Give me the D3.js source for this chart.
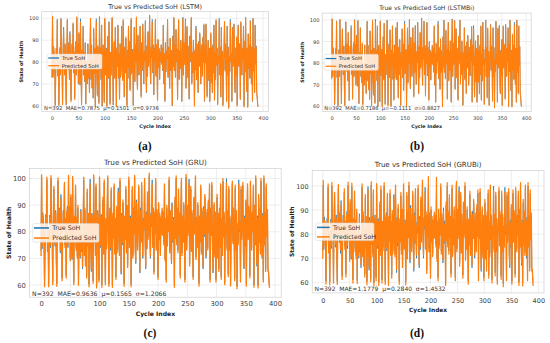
<!DOCTYPE html>
<html><head><meta charset="utf-8">
<script src="https://cdn.jsdelivr.net/npm/d3@7/dist/d3.min.js"></script>
<style>html,body{margin:0;padding:0;background:#fff;}svg{display:block;}</style>
</head><body><svg id="c" width="550" height="343"></svg>
<script>
const trueSoH = [
72.8,100.4,73.6,87.2,84.0,79.0,60.5,74.0,86.5,81.0,
99.6,73.5,80.0,60.2,76.0,86.3,74.0,100.0,82.5,78.0,
61.0,85.0,96.0,79.5,74.5,88.0,70.2,60.4,84.0,99.2,
82.0,76.5,89.0,72.0,94.0,81.0,62.5,78.0,88.0,80.5,
97.5,75.0,84.0,63.5,86.0,89.5,74.0,100.2,79.0,88.5,
70.0,93.0,82.5,69.5,99.8,77.0,61.0,85.0,78.0,96.5,
74.0,84.5,71.0,89.0,60.8,80.0,76.5,70.0,88.5,72.5,
79.0,66.0,84.0,99.5,72.0,88.0,68.0,81.0,63.5,95.0,
75.5,86.0,60.2,80.0,99.8,74.0,65.0,87.0,80.0,61.5,
100.4,77.0,86.0,72.0,97.0,59.8,82.0,88.0,74.5,62.0,
99.6,80.0,74.0,86.5,60.0,83.0,92.0,72.5,98.5,78.0,
61.0,84.0,74.5,88.0,100.0,79.0,60.4,85.0,89.0,73.0,
95.5,80.0,60.0,86.0,78.5,97.0,72.5,84.0,63.0,88.5,
73.0,81.0,96.5,76.0,72.0,99.0,82.0,64.0,87.0,75.0,
91.0,79.0,60.4,85.0,78.0,96.0,73.0,89.0,67.5,83.0,
99.5,75.0,82.0,86.0,60.2,79.0,96.0,71.0,88.0,80.0,
100.2,74.0,68.0,92.0,81.0,74.0,86.0,96.5,77.0,64.5,
89.0,76.0,97.5,80.0,70.0,85.0,80.5,99.0,76.0,66.0,
87.5,73.5,94.0,78.0,84.0,101.0,79.0,70.0,87.0,82.0,
99.5,75.0,88.0,65.0,86.5,80.0,99.0,74.0,87.5,78.0,
63.0,90.0,78.0,86.0,72.0,84.5,80.0,88.0,79.5,86.5,
76.0,97.0,70.0,84.0,62.0,89.0,75.5,85.0,81.0,99.5,
73.0,87.0,78.0,68.0,91.0,76.0,85.5,80.0,60.0,92.0,
78.5,100.0,76.0,88.0,73.0,95.0,80.0,86.0,63.5,87.0,
99.0,72.0,85.0,77.0,90.0,79.0,62.0,86.0,100.5,74.0,
89.0,79.5,84.0,99.8,68.0,84.0,96.0,73.5,87.0,77.0,
63.0,92.0,80.0,86.0,100.0,70.5,84.5,75.0,90.0,81.0,
60.5,85.0,77.0,96.5,72.5,88.0,82.0,66.0,89.5,78.0,
93.0,86.5,70.0,84.0,87.5,74.0,91.0,80.5,97.0,62.0,
88.0,79.5,97.5,76.0,64.5,82.0,90.0,71.5,86.5,62.0,
77.0,93.0,71.0,86.0,66.0,88.0,75.0,97.0,63.0,84.0,
72.0,99.0,79.0,86.5,61.0,82.0,80.0,100.0,74.0,87.0,
64.0,96.0,74.0,85.0,60.5,78.0,86.0,98.0,76.5,88.0,
79.5,62.5,96.5,74.0,87.0,59.5,82.0,76.0,99.5,80.0,
84.0,62.0,96.0,78.0,86.0,97.5,73.0,66.0,86.0,74.5,
91.0,60.5,83.0,97.0,78.0,88.5,87.0,63.5,98.0,80.0,
74.0,86.5,81.0,96.5,60.0,89.0,76.0,100.0,78.0,67.0,
86.0,59.8,93.0,77.0,88.0,72.5,99.0,80.0,70.0,87.0,
62.0,100.0,76.0,86.5,66.0,97.0,79.0,87.5,66.0,64.0,
60.5,60.0];

const predLSTM = [
73.2,100.9,73.0,86.6,84.5,79.4,60.0,74.5,86.0,81.4,
99.1,74.0,80.5,60.6,75.6,86.8,74.4,99.4,82.0,78.5,
60.6,85.4,94.6,79.9,74.1,88.4,70.7,60.9,84.5,99.7,
81.6,77.0,88.5,72.5,92.6,81.5,62.0,78.4,88.5,80.0,
97.9,75.4,84.5,63.0,86.4,89.0,74.5,100.7,78.6,88.0,
70.5,93.5,82.0,70.0,98.3,77.5,60.6,85.5,78.4,96.0,
74.5,84.0,71.5,88.6,61.2,80.4,76.0,70.5,88.0,73.0,
78.6,66.5,84.4,100.0,72.4,87.6,68.5,80.6,64.0,95.5,
75.0,86.4,59.8,80.5,98.4,74.5,64.6,87.4,79.6,61.0,
100.8,76.6,86.5,72.4,96.6,60.2,82.5,87.6,75.0,61.6,
100.0,79.6,74.5,86.0,59.6,83.4,91.6,73.0,98.0,78.5,
60.6,84.5,74.0,88.5,100.5,78.6,60.9,84.6,89.4,72.6,
96.0,79.6,59.6,86.4,78.0,96.5,73.0,83.6,63.4,88.0,
73.5,80.6,95.2,76.4,71.6,99.4,81.6,64.5,86.6,75.4,
91.5,78.6,60.0,85.4,77.6,96.4,72.6,89.4,67.0,83.5,
100.0,74.6,82.4,85.6,60.6,79.4,95.6,71.5,87.6,80.4,
100.6,74.4,67.6,92.4,80.6,74.4,85.6,96.0,77.4,64.0,
88.6,76.4,97.0,80.4,70.4,84.6,81.0,98.5,75.6,66.5,
87.0,74.0,93.6,78.4,83.6,101.5,78.6,70.4,86.6,82.4,
98.2,75.4,87.6,65.4,86.0,80.4,99.5,73.6,88.0,77.6,
62.6,90.4,77.6,86.4,72.4,84.0,80.4,87.6,79.0,86.0,
76.4,96.5,70.4,83.6,62.5,88.6,76.0,84.6,81.4,99.0,
73.4,86.6,78.4,68.4,90.6,76.4,85.0,80.4,60.4,91.6,
78.0,100.4,76.4,87.6,73.4,94.6,80.4,85.6,63.0,87.4,
99.4,72.4,84.6,77.4,89.6,79.4,62.4,85.6,100.0,74.4,
88.6,79.0,84.4,98.5,68.4,83.6,96.4,73.0,87.4,76.6,
63.4,91.6,80.4,85.6,100.4,70.0,84.0,75.4,89.6,81.4,
60.0,85.4,76.6,95.2,72.0,88.4,81.6,66.4,89.0,78.4,
93.4,86.0,70.4,83.6,88.0,73.6,91.4,80.0,97.4,62.4,
87.6,80.0,97.0,76.4,64.0,82.4,89.6,72.0,86.0,62.5,
76.6,93.4,70.6,86.4,66.4,87.6,75.4,96.6,62.6,84.4,
72.4,99.4,78.6,86.0,60.6,82.4,79.6,98.6,74.4,86.6,
64.4,95.6,74.4,84.6,60.0,78.4,85.6,98.5,76.0,88.4,
79.0,62.0,96.0,74.4,86.6,58.9,82.4,75.6,98.2,80.4,
83.6,62.4,95.6,78.4,85.6,97.0,73.4,66.4,86.4,74.0,
91.4,60.0,83.4,96.6,78.4,88.0,87.4,63.0,98.5,79.6,
74.4,86.0,81.4,96.0,59.6,89.4,75.6,100.4,78.4,66.6,
86.4,59.4,92.6,77.4,87.6,73.0,98.6,80.4,70.4,86.6,
62.4,99.6,76.4,86.0,66.4,96.6,79.4,87.0,66.4,63.6,
60.0,59.6];

const predLSTMBi = [
72.5,100.6,73.9,86.9,83.6,78.7,60.9,73.6,86.8,80.6,
99.3,73.2,79.6,60.0,76.3,86.0,73.7,100.3,82.2,77.6,
61.3,84.6,95.7,79.2,74.9,87.6,70.0,60.0,83.7,99.0,
82.3,76.2,88.7,71.6,94.3,80.7,62.8,77.6,87.7,80.8,
96.2,74.7,83.6,63.2,85.7,89.2,73.6,99.9,79.3,88.2,
69.7,92.6,82.8,69.2,99.5,76.6,61.3,84.6,77.7,96.2,
73.6,84.8,70.7,89.3,60.4,79.7,76.8,69.6,88.2,72.2,
79.3,65.7,83.6,99.2,71.7,88.3,67.6,81.3,63.1,94.7,
75.2,85.7,60.0,79.7,100.0,73.7,65.3,86.7,80.3,61.2,
99.0,77.3,85.7,71.7,97.3,59.5,81.7,88.3,74.2,62.3,
99.3,79.7,74.3,86.2,59.7,82.7,92.3,72.2,98.2,77.7,
60.7,83.7,74.8,87.7,99.7,79.3,60.0,85.3,88.7,73.3,
95.2,80.3,59.7,85.7,78.8,97.3,72.2,84.3,62.7,88.2,
72.7,81.3,96.2,75.7,72.3,98.7,82.3,63.7,87.3,74.7,
90.7,79.3,60.1,84.7,78.3,95.7,73.3,88.7,67.2,83.3,
98.1,75.3,81.7,86.3,59.9,79.3,96.3,70.7,88.3,79.7,
100.0,73.7,68.3,91.7,81.3,73.7,86.3,96.2,77.3,64.2,
89.3,75.7,97.2,79.7,70.3,85.3,80.2,98.7,76.3,65.7,
87.8,73.2,94.3,77.7,84.3,100.7,79.3,69.7,87.3,81.7,
99.2,74.7,88.3,64.7,86.8,79.7,98.7,74.3,87.2,78.3,
62.7,89.7,78.3,85.7,72.3,84.8,79.7,88.3,79.2,86.8,
75.7,97.3,69.7,84.3,61.7,89.3,75.2,85.3,80.7,98.1,
72.7,87.3,77.7,67.7,91.3,75.7,85.8,79.7,59.7,92.3,
78.2,99.7,75.7,88.3,72.7,95.3,79.7,86.3,63.2,86.7,
98.7,71.7,85.3,76.7,90.3,78.7,61.7,86.3,100.2,73.7,
89.3,79.2,83.7,99.5,67.7,84.3,95.7,73.2,86.7,77.3,
62.7,92.3,79.7,86.3,99.7,70.2,84.8,74.7,90.3,80.7,
60.2,84.7,77.3,96.2,72.2,87.7,82.3,65.7,89.8,77.7,
92.7,86.8,69.7,84.3,87.2,74.3,90.7,80.8,96.7,61.7,
88.3,79.2,96.1,75.7,64.2,81.7,90.3,71.2,86.8,61.7,
77.3,92.7,71.3,85.7,65.7,88.3,74.7,97.3,62.7,83.7,
71.7,98.7,79.3,86.2,60.7,81.7,80.3,99.7,73.7,87.3,
63.7,96.3,73.7,85.3,60.2,77.7,86.3,97.7,76.8,87.7,
79.2,62.2,96.2,73.7,87.3,59.2,81.7,76.3,99.2,79.7,
84.3,61.7,96.3,77.7,86.3,97.2,72.7,65.7,85.7,74.2,
90.7,60.2,82.7,97.3,77.7,88.8,86.7,63.2,97.7,80.3,
73.7,86.8,80.7,96.2,59.7,88.7,76.3,99.7,77.7,67.3,
85.7,59.5,93.3,76.7,88.3,72.2,97.6,79.7,70.3,86.7,
61.7,99.7,75.7,86.8,65.7,97.3,78.7,87.8,65.7,63.7,
60.2,59.7];

const predGRU = [
70.9,101.4,74.4,86.2,84.9,78.1,59.4,74.9,85.6,81.9,
100.5,72.6,80.9,59.3,76.9,85.4,74.9,101.1,81.6,78.9,
60.1,85.9,97.0,78.6,75.4,87.1,71.1,59.5,84.9,100.2,
81.1,77.4,88.1,72.9,92.4,81.9,61.6,78.9,87.1,81.4,
98.5,74.1,84.9,62.6,86.9,88.6,74.9,101.2,78.1,89.4,
69.1,93.9,81.6,70.4,100.8,76.1,60.1,85.9,77.1,97.5,
73.1,85.4,70.1,89.9,59.9,80.9,75.6,70.9,87.6,73.4,
78.1,66.9,83.1,100.5,71.1,88.9,67.1,81.9,62.6,96.0,
74.6,86.9,59.3,80.9,98.0,73.1,65.9,86.1,80.9,60.6,
101.4,76.1,86.9,71.1,98.0,58.9,82.9,87.1,75.4,61.1,
100.6,79.1,74.9,85.6,59.1,83.9,93.0,71.6,99.5,77.1,
60.1,84.9,73.6,88.9,101.0,78.1,59.5,85.9,88.1,73.9,
96.5,79.1,59.1,86.9,77.6,98.0,71.6,84.9,62.1,89.4,
72.1,81.9,95.0,76.9,71.1,100.0,81.1,64.9,86.1,75.9,
92.0,78.1,59.5,85.9,77.1,97.0,72.1,89.9,66.6,83.9,
100.5,74.1,82.9,85.1,59.3,79.9,97.0,70.1,88.9,79.1,
101.2,73.1,68.9,91.1,81.9,73.1,86.9,97.5,76.1,65.4,
88.1,76.9,98.5,79.1,70.9,84.1,81.4,100.0,75.1,66.9,
86.6,74.4,95.0,77.1,84.9,102.0,78.1,70.9,86.1,82.9,
97.9,74.1,88.9,64.1,87.4,79.1,100.0,73.1,88.4,77.1,
62.1,90.9,77.1,86.9,71.1,85.4,79.1,88.9,78.6,87.4,
75.1,98.0,69.1,84.9,61.1,89.9,74.6,85.9,80.1,100.5,
72.1,87.9,77.1,68.9,90.1,76.9,84.6,80.9,59.1,93.0,
77.6,101.0,75.1,88.9,72.1,96.0,79.1,86.9,62.6,87.9,
100.0,71.1,85.9,76.1,90.9,78.1,61.1,86.9,101.5,73.1,
89.9,78.6,84.9,98.2,67.1,84.9,97.0,72.6,87.9,76.1,
62.1,92.9,79.1,86.9,101.0,69.6,85.4,74.1,90.9,80.1,
59.6,85.9,76.1,97.5,71.6,88.9,81.1,66.9,88.6,78.9,
94.0,85.6,70.9,83.1,88.4,73.1,91.9,79.6,98.0,61.1,
88.9,78.6,98.5,75.1,65.4,81.1,90.9,70.6,87.4,61.1,
77.9,94.0,70.1,86.9,65.1,88.9,74.1,98.0,62.1,84.9,
71.1,100.0,78.1,87.4,60.1,82.9,79.1,98.4,73.1,87.9,
63.1,97.0,73.1,85.9,59.6,78.9,85.1,99.0,75.6,88.9,
78.6,61.6,97.5,73.1,87.9,58.6,82.9,75.1,97.9,80.9,
83.1,61.1,97.0,77.1,86.9,98.5,72.1,66.9,85.1,75.4,
91.9,59.6,83.9,98.0,77.1,89.4,86.1,62.6,99.0,79.1,
73.1,87.4,80.1,97.5,59.1,89.9,75.1,101.0,77.1,67.9,
85.1,58.9,94.0,76.1,88.9,71.6,100.0,79.1,70.9,86.1,
61.1,101.0,75.1,87.4,65.1,98.0,78.1,88.4,65.1,64.9,
59.6,58.9];

const predGRUBi = [
69.8,102.3,75.0,85.8,85.3,77.8,59.2,75.3,85.2,82.3,
100.9,72.2,81.3,58.9,77.2,85.0,75.3,101.5,81.2,79.3,
59.7,86.3,97.4,78.2,75.8,86.7,71.5,59.1,85.3,100.6,
80.7,77.8,87.7,73.3,92.0,82.3,61.2,79.3,86.7,81.8,
98.9,73.7,85.3,62.2,87.3,88.2,75.3,101.6,77.7,89.8,
68.7,94.3,81.2,70.8,101.2,75.7,59.7,86.3,76.7,97.9,
72.7,85.8,69.7,90.3,59.5,81.3,75.2,71.3,87.2,73.8,
77.7,67.3,82.7,100.9,70.7,89.3,66.7,82.3,62.2,96.4,
74.2,87.3,58.9,81.3,98.4,72.7,66.3,85.7,81.3,60.2,
101.8,75.7,87.3,70.7,98.4,58.5,83.3,86.7,75.8,60.7,
101.0,78.7,75.3,85.2,58.7,84.3,93.4,71.2,99.9,76.7,
59.7,85.3,73.2,89.3,101.4,77.7,59.1,86.3,87.7,74.3,
96.9,78.7,58.7,87.3,77.2,98.4,71.2,85.3,61.7,89.8,
71.7,82.3,95.4,77.3,70.7,100.4,80.7,65.3,85.7,76.3,
92.4,77.7,59.1,86.3,76.7,97.4,71.7,90.3,66.2,84.3,
100.9,73.7,83.3,84.7,58.9,80.3,97.4,69.7,89.3,78.7,
101.6,72.7,69.3,90.7,82.3,72.7,87.3,97.9,75.7,65.8,
87.7,77.3,98.9,78.7,71.3,83.7,81.8,100.4,74.7,67.3,
86.2,74.8,95.4,76.7,85.3,102.4,77.7,71.3,85.7,83.3,
97.5,73.7,89.3,63.7,87.8,78.7,103.9,72.7,88.8,76.7,
61.7,91.3,76.7,87.3,70.7,85.8,78.7,89.3,78.2,87.8,
74.7,103.6,68.7,85.3,60.7,90.3,74.2,86.3,79.7,100.9,
71.7,88.3,76.7,69.3,89.7,77.3,84.2,81.3,58.7,93.4,
77.2,101.4,74.7,89.3,71.7,96.4,78.7,87.3,62.2,88.3,
100.4,70.7,86.3,75.7,91.3,77.7,60.7,87.3,101.9,72.7,
90.3,78.2,85.3,97.8,66.7,85.3,97.4,72.2,88.3,75.7,
61.7,93.3,78.7,87.3,101.4,69.2,85.8,73.7,91.3,79.7,
59.2,86.3,75.7,97.9,71.2,89.3,80.7,67.3,88.2,79.3,
94.4,85.2,71.3,82.7,88.8,72.7,92.3,79.2,98.4,60.7,
89.3,78.2,98.9,74.7,65.8,80.7,91.3,70.2,87.8,60.7,
78.3,94.4,69.7,87.3,64.7,89.3,73.7,98.4,61.7,85.3,
70.7,100.4,77.7,87.8,59.7,83.3,78.7,98.0,72.7,88.3,
62.7,97.4,72.7,86.3,59.2,79.3,84.7,99.4,75.2,89.3,
78.2,61.2,97.9,72.7,88.3,58.2,83.3,74.7,97.5,81.3,
82.7,60.7,97.4,76.7,87.3,98.9,71.7,67.3,84.7,75.8,
92.3,59.2,84.3,98.4,76.7,89.8,85.7,62.2,99.4,78.7,
72.7,87.8,79.7,97.9,58.7,90.3,74.7,101.4,76.7,68.3,
84.7,58.5,94.4,75.7,89.3,71.2,100.4,78.7,71.3,85.7,
60.7,101.4,74.7,87.8,64.7,98.4,77.7,88.8,64.7,65.3,
59.2,58.5];

const xTicks = [0,50,100,150,200,250,300,350,400];
const yTicks = [60,70,80,90,100];
const titles = ["True vs Predicted SoH (LSTM)","True vs Predicted SoH (LSTMBi)","True vs Predicted SoH (GRU)","True vs Predicted SoH (GRUBi)"];
const statLabels = ["N=392  MAE=0.7875  \u03bc=0.1501  \u03c3=0.9736","N=392  MAE=0.7186  \u03bc=\u22120.1111  \u03c3=0.8827","N=392  MAE=0.9636  \u03bc=0.1565  \u03c3=1.2066","N=392  MAE=1.1779  \u03bc=0.2840  \u03c3=1.4532"];
const tags = ["(a)","(b)","(c)","(d)"];
const legendLabels = ["True SoH","Predicted SoH"];
const xLabel = "Cycle Index", yLabel = "State of Health";
const preds = [predLSTM, predLSTMBi, predGRU, predGRUBi];

// layout (pixels)
const layouts = [
 {L:41.7,R:268.6,T:11.7,B:111.5,yd:[57.5,103.0],ft:6.4,fk:5.2,fl:4.9,fs:5.25,fg:5.3,lw:1.1,tp:4.6,tagX:145,tagY:150,
  lg:{x:47,w:55,h:15,r1:3.9,r2:11.6,ls:1.3,le:12,tx:14.7}, ylx:22.5, xlb:128.3},
 {L:322.2,R:531.2,T:13.1,B:111.4,yd:[57.5,103.2],ft:6.1,fk:5.1,fl:4.8,fs:5.1,fg:5.2,lw:1.05,tp:4.6,tagX:417,tagY:150,
  lg:{x:324.3,w:54,h:16,r1:4.3,r2:12.0,ls:1.3,le:12,tx:14.5}, ylx:303.5, xlb:128.3},
 {L:29.6,R:281.2,T:168.4,B:297.2,yd:[55.4,103.8],ft:7.25,fk:6.8,fl:6.1,fs:6.15,fg:6.3,lw:1.3,tp:4.2,tagX:150,tagY:337,
  lg:{x:32.7,w:66.3,h:18.7,r1:4.5,r2:14.6,ls:1.3,le:16.3,tx:19.6}, ylx:11.0, xlb:315.6},
 {L:312.2,R:544.0,T:170.6,B:292.9,yd:[55.6,106.4],ft:7.05,fk:6.5,fl:5.9,fs:6.0,fg:6.1,lw:1.25,tp:5.2,tagX:417,tagY:337,
  lg:{x:315.7,w:58.3,h:17.7,r1:4.5,r2:14.0,ls:1.3,le:14,tx:17.3}, ylx:293.5, xlb:311.8}
];

const svg = d3.select("#c");
const FONT = "DejaVu Sans, Verdana, sans-serif";

layouts.forEach((p, k) => {
  const x = d3.scaleLinear().domain([-19.55, 410.55]).range([p.L, p.R]);
  const y = d3.scaleLinear().domain(p.yd).range([p.B, p.T]);
  const g = svg.append("g");

  // grid
  g.selectAll(".gx").data(xTicks).enter().append("line")
    .attr("x1", d => x(d)).attr("x2", d => x(d)).attr("y1", p.T).attr("y2", p.B)
    .attr("stroke", "#e3e3e3").attr("stroke-width", 0.6);
  g.selectAll(".gy").data(yTicks).enter().append("line")
    .attr("y1", d => y(d)).attr("y2", d => y(d)).attr("x1", p.L).attr("x2", p.R)
    .attr("stroke", "#e3e3e3").attr("stroke-width", 0.6);

  // axes (labels only)
  const xa = g.append("g").attr("transform", `translate(0,${p.B})`)
    .call(d3.axisBottom(x).tickValues(xTicks).tickSize(0).tickPadding(p.tp));
  const ya = g.append("g").attr("transform", `translate(${p.L},0)`)
    .call(d3.axisLeft(y).tickValues(yTicks).tickSize(0).tickPadding(p.fk*0.55));
  [xa, ya].forEach(a => {
    a.select(".domain").remove();
    a.selectAll("text").attr("font-family", FONT).attr("font-size", p.fk).attr("fill", "#444");
  });

  // lines
  const line = d3.line().x((d, i) => x(i)).y(d => y(d));
  g.append("path").datum(trueSoH).attr("d", line).attr("fill", "none")
    .attr("stroke", "#1f77b4").attr("stroke-width", p.lw * 0.55).attr("stroke-linejoin", "round");
  g.append("path").datum(preds[k]).attr("d", line).attr("fill", "none")
    .attr("stroke", "#ff7f0e").attr("stroke-width", p.lw).attr("stroke-linejoin", "round");

  // frame
  g.append("rect").attr("x", p.L).attr("y", p.T).attr("width", p.R - p.L).attr("height", p.B - p.T)
    .attr("fill", "none").attr("stroke", "#cfcfcf").attr("stroke-width", 0.7);

  // title
  g.append("text").attr("x", (p.L + p.R) / 2).attr("y", p.T - p.ft * 0.45)
    .attr("text-anchor", "middle").attr("font-family", FONT).attr("font-size", p.ft)
    .attr("fill", "#333").text(titles[k]);

  // axis labels
  g.append("text").attr("x", (p.L + p.R) / 2).attr("y", p.xlb)
    .attr("text-anchor", "middle").attr("font-family", FONT).attr("font-size", p.fl)
    .attr("font-weight", "bold").attr("fill", "#222").text(xLabel);
  g.append("text").attr("transform", `translate(${p.ylx},${(p.T + p.B) / 2}) rotate(-90)`)
    .attr("text-anchor", "middle").attr("font-family", FONT).attr("font-size", p.fl)
    .attr("font-weight", "bold").attr("fill", "#222").text(yLabel);

  // stats
  g.append("text").attr("x", p.L + (p.R - p.L) * 0.01).attr("y", p.B - 1.6)
    .attr("font-family", FONT).attr("font-size", p.fs).attr("fill", "#333")
    .style("white-space", "pre").text(statLabels[k]);

  // legend
  const lg = p.lg, ly = (p.T + p.B) / 2 - lg.h / 2;
  const leg = g.append("g").attr("transform", `translate(${lg.x},${ly})`);
  leg.append("rect").attr("width", lg.w).attr("height", lg.h).attr("rx", 1.5)
    .attr("fill", "#fff").attr("fill-opacity", 0.8).attr("stroke", "#d6d6d6").attr("stroke-width", 0.5);
  const cols = ["#1f77b4", "#ff7f0e"];
  [lg.r1, lg.r2].forEach((ry, j) => {
    leg.append("line").attr("x1", lg.ls).attr("x2", lg.le).attr("y1", ry).attr("y2", ry)
      .attr("stroke", cols[j]).attr("stroke-width", p.lw * 1.2);
    leg.append("text").attr("x", lg.tx).attr("y", ry).attr("dy", "0.35em")
      .attr("font-family", FONT).attr("font-size", p.fg).attr("fill", "#333").text(legendLabels[j]);
  });

  // tag
  svg.append("text").attr("x", p.tagX).attr("y", p.tagY).attr("text-anchor", "middle")
    .attr("font-family", "Liberation Serif, DejaVu Serif, serif").attr("font-weight", "bold")
    .attr("font-size", 11.5).attr("fill", "#111").text(tags[k]);
});
</script></body></html>
